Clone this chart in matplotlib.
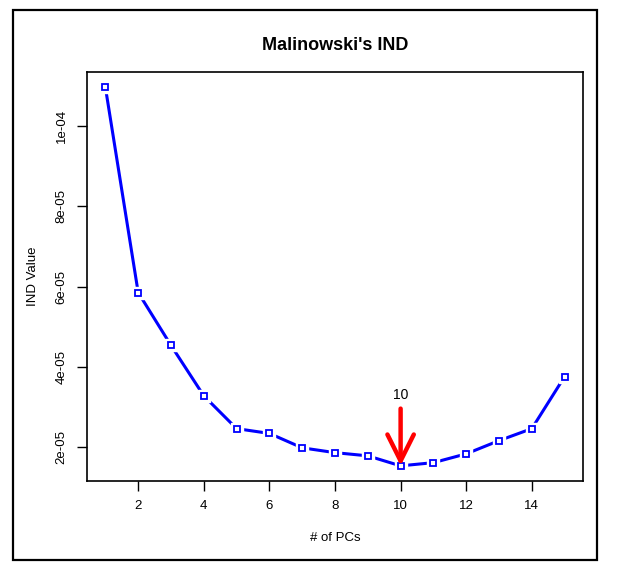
import matplotlib.pyplot as plt
from matplotlib.patches import Rectangle

# IND values
n_pcs = [1, 2, 3, 4, 5, 6, 7, 8, 9, 10, 11, 12, 13, 14, 15]
ind_value = [1.098e-04, 5.85e-05, 4.53e-05, 3.27e-05, 2.45e-05, 2.33e-05, 1.97e-05,
             1.85e-05, 1.77e-05, 1.52e-05, 1.60e-05, 1.82e-05, 2.15e-05, 2.45e-05, 3.75e-05]
best_pc = 10
x_ticks = [2, 4, 6, 8, 10, 12, 14]
y_ticks = [2e-05, 4e-05, 6e-05, 8e-05, 1e-04]
y_tick_labels = ['2e-05', '4e-05', '6e-05', '8e-05', '1e-04']

plt.rcParams['font.family'] = ['Liberation Sans', 'DejaVu Sans']

fig = plt.figure(figsize=(6.17, 5.71), dpi=100)
W, H = 617, 571
# outer frame round the whole figure
fig.patches.append(Rectangle((13 / W, 1 - 560 / H), (597 - 13) / W, (560 - 10) / H,
                             transform=fig.transFigure, fill=False, edgecolor='black', lw=1.6))

ax = fig.add_axes([87 / W, 1 - 481 / H, (583 - 87) / W, (481 - 72) / H])

# R style type="b": line with gaps round the points
ax.plot(n_pcs, ind_value, color='blue', lw=2.2, zorder=2)
ax.plot(n_pcs, ind_value, 's', ms=8, mfc='white', mec='white', zorder=3)
ax.plot(n_pcs, ind_value, 's', ms=4.5, mfc='none', mec='blue', mew=1.3, zorder=4)

best_val = ind_value[n_pcs.index(best_pc)]
ax.annotate('', xy=(best_pc, best_val), xytext=(best_pc, 2.95e-05),
            arrowprops=dict(arrowstyle='->,head_length=1.9,head_width=0.95',
                            color='red', lw=3.2, shrinkA=0, shrinkB=0),
            zorder=5)
ax.text(best_pc, 3.28e-05, str(best_pc), ha='center', va='center', fontsize=10)

lo, hi = min(ind_value), max(ind_value)
pad = (hi - lo) * 0.04
ax.set_ylim(lo - pad, hi + pad)
ax.set_xlim(1 - 14 * 0.04, 15 + 14 * 0.04)

ax.set_xticks(x_ticks)
ax.set_yticks(y_ticks)
ax.set_yticklabels(y_tick_labels, rotation=90, va='center')
ax.tick_params(direction='out', length=7, width=1, labelsize=9.5, pad=7)
for s in ax.spines.values():
    s.set_linewidth(1.2)

ax.set_title("Malinowski's IND", fontsize=13, fontweight='bold', pad=16)
ax.set_xlabel('# of PCs', fontsize=9.5, labelpad=14)
ax.set_ylabel('IND Value', fontsize=9.5, labelpad=12)

fig.savefig('out.png', dpi=100)
